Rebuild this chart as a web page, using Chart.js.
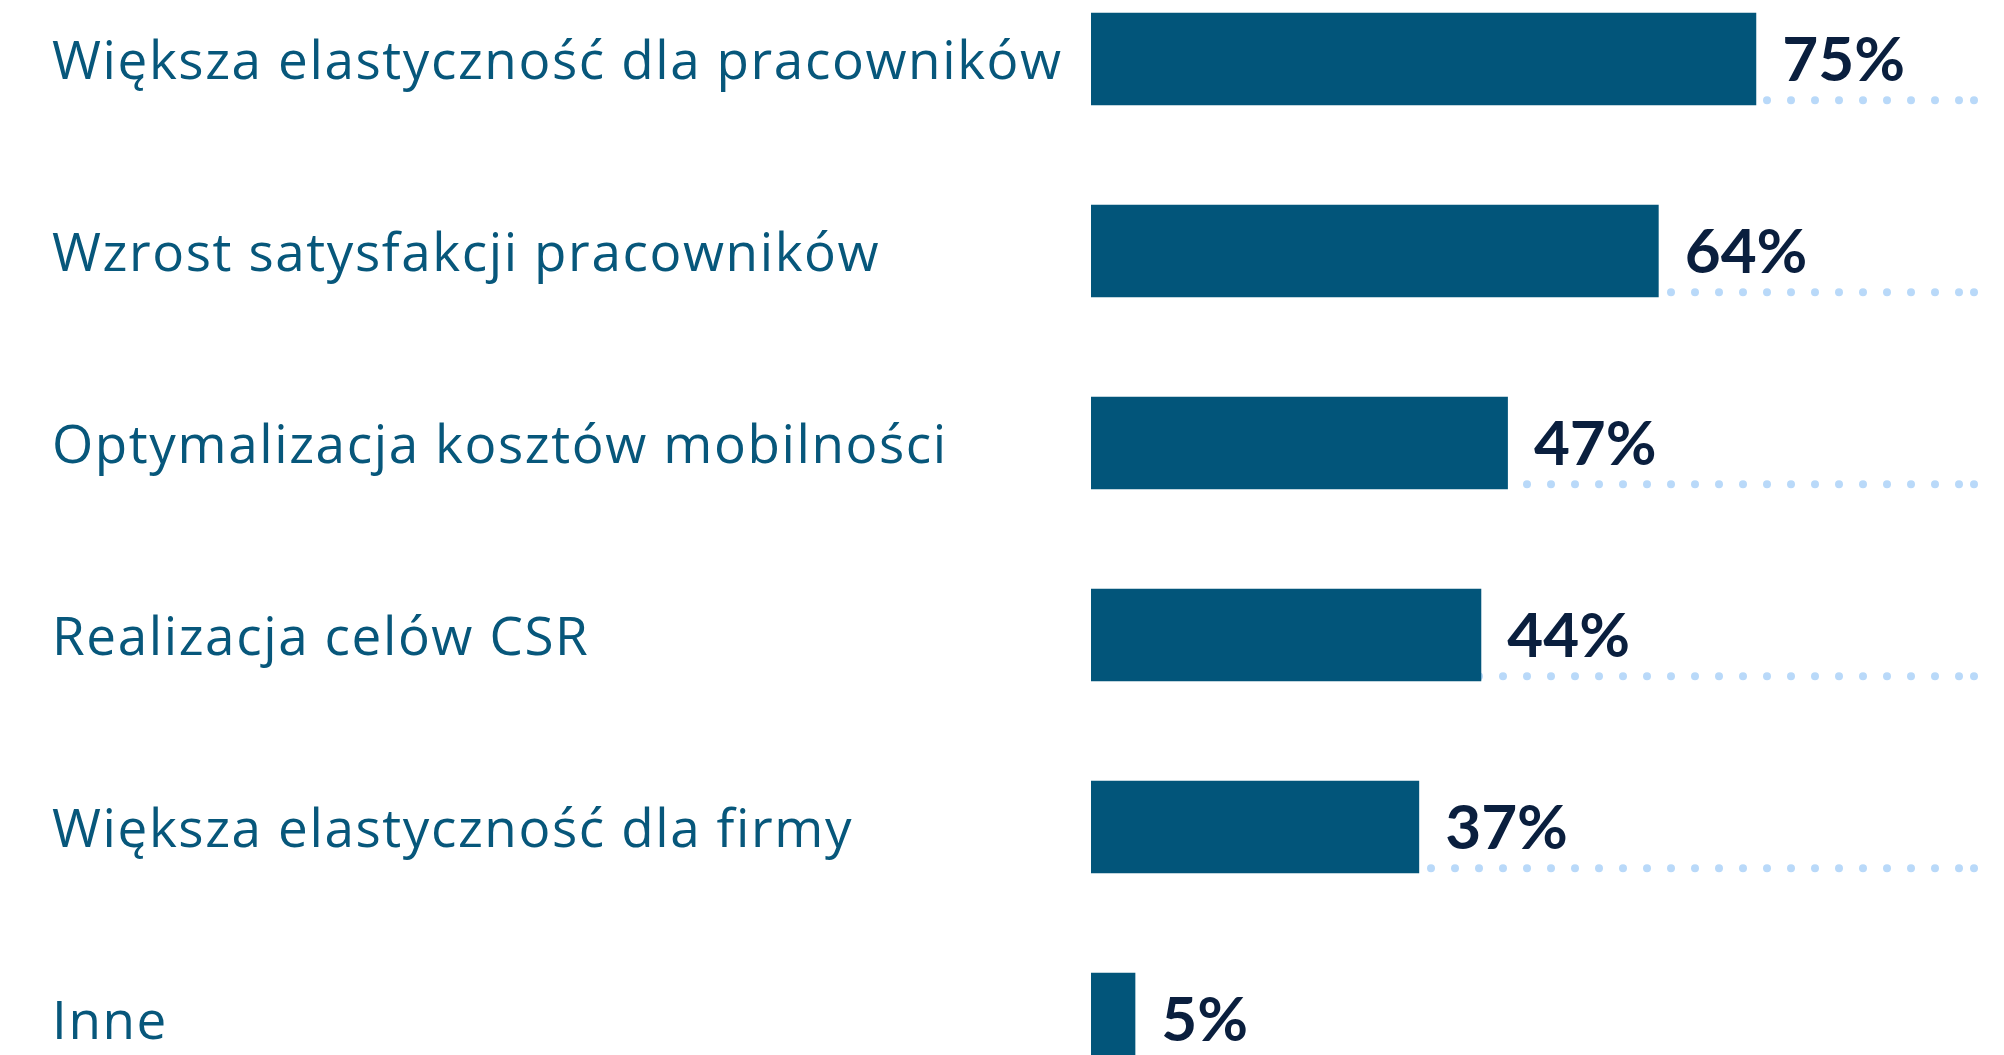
<!DOCTYPE html>
<html>
<head>
<meta charset="utf-8">
<script src="https://cdn.jsdelivr.net/npm/chart.js@4.4.0/dist/chart.umd.min.js"></script>
<style>
  html, body { margin: 0; padding: 0; background: #ffffff; overflow: hidden; }
  #wrap { position: absolute; left: 0; top: -37.5px; width: 2004px; height: 1152px; }
</style>
</head>
<body>
<div id="wrap"><canvas id="mychart"></canvas></div>
<script>
// data
var categories = [
  "Większa elastyczność dla pracowników",
  "Wzrost satysfakcji pracowników",
  "Optymalizacja kosztów mobilności",
  "Realizacja celów CSR",
  "Większa elastyczność dla firmy",
  "Inne"
]
var values = [75, 64, 47, 44, 37, 5]
var scaleMin = 0
var scaleMax = 100

// wider tracking for the category labels (font is narrower than the original)
var spacingPlugin = {
  id: 'spacing',
  beforeDraw: function(chart) { chart.ctx.letterSpacing = '1.6px' }
}

// dotted guide line under each bar, from 0 to 100%
var dotsPlugin = {
  id: 'dots',
  beforeDatasetsDraw: function(chart) {
    var ctx = chart.ctx
    var xs = chart.scales.x
    var x0 = xs.getPixelForValue(scaleMin)
    var x1 = xs.getPixelForValue(scaleMax)
    ctx.save()
    ctx.fillStyle = '#b9d9f9'
    chart.getDatasetMeta(0).data.forEach(function(bar) {
      var y = bar.y + bar.height / 2 - 5
      var x
      for (x = x0 + 4; x < x1 - 16; x += 24) {
        ctx.beginPath()
        ctx.arc(x, y, 4, 0, Math.PI * 2)
        ctx.fill()
      }
      ctx.beginPath()
      ctx.arc(x1 - 4, y, 4, 0, Math.PI * 2)
      ctx.fill()
    })
    ctx.restore()
  }
}

// percentage labels right of the bars
var valuePlugin = {
  id: 'values',
  afterDatasetsDraw: function(chart) {
    var ctx = chart.ctx
    ctx.save()
    ctx.letterSpacing = '0px'
    ctx.font = 'bold 62px Lato'
    ctx.fillStyle = '#0a1f3e'
    ctx.textAlign = 'left'
    ctx.textBaseline = 'middle'
    chart.getDatasetMeta(0).data.forEach(function(bar, i) {
      ctx.fillText(values[i] + '%', bar.x + 26, bar.y + 2)
    })
    ctx.restore()
  }
}

var mychart = document.getElementById("mychart").getContext('2d')
var chart = new Chart(mychart, {
  type: 'bar',
  data: {
    labels: categories,
    datasets: [{
      data: values,
      backgroundColor: '#02557a',
      borderWidth: 0,
      categoryPercentage: 1,
      barPercentage: 0.483
    }]
  },
  options: {
    indexAxis: 'y',
    responsive: true,
    maintainAspectRatio: false,
    animation: false,
    layout: { padding: { left: 52, right: 26, top: 0, bottom: 0 } },
    plugins: { legend: { display: false }, tooltip: { enabled: false } },
    scales: {
      x: { display: false, min: scaleMin, max: scaleMax },
      y: {
        grid: { display: false },
        border: { display: false },
        ticks: {
          crossAlign: 'far',
          padding: 0,
          labelOffset: 5,
          color: '#07577b',
          font: { family: "'Open Sans'", size: 53 }
        },
        afterFit: function(scale) {
          scale.width = 1091 - 52
          // no extra room above/below for the first/last label
          scale.paddingTop = 0
          scale.paddingBottom = 0
        }
      }
    }
  },
  plugins: [spacingPlugin, dotsPlugin, valuePlugin]
})
</script>
</body>
</html>
